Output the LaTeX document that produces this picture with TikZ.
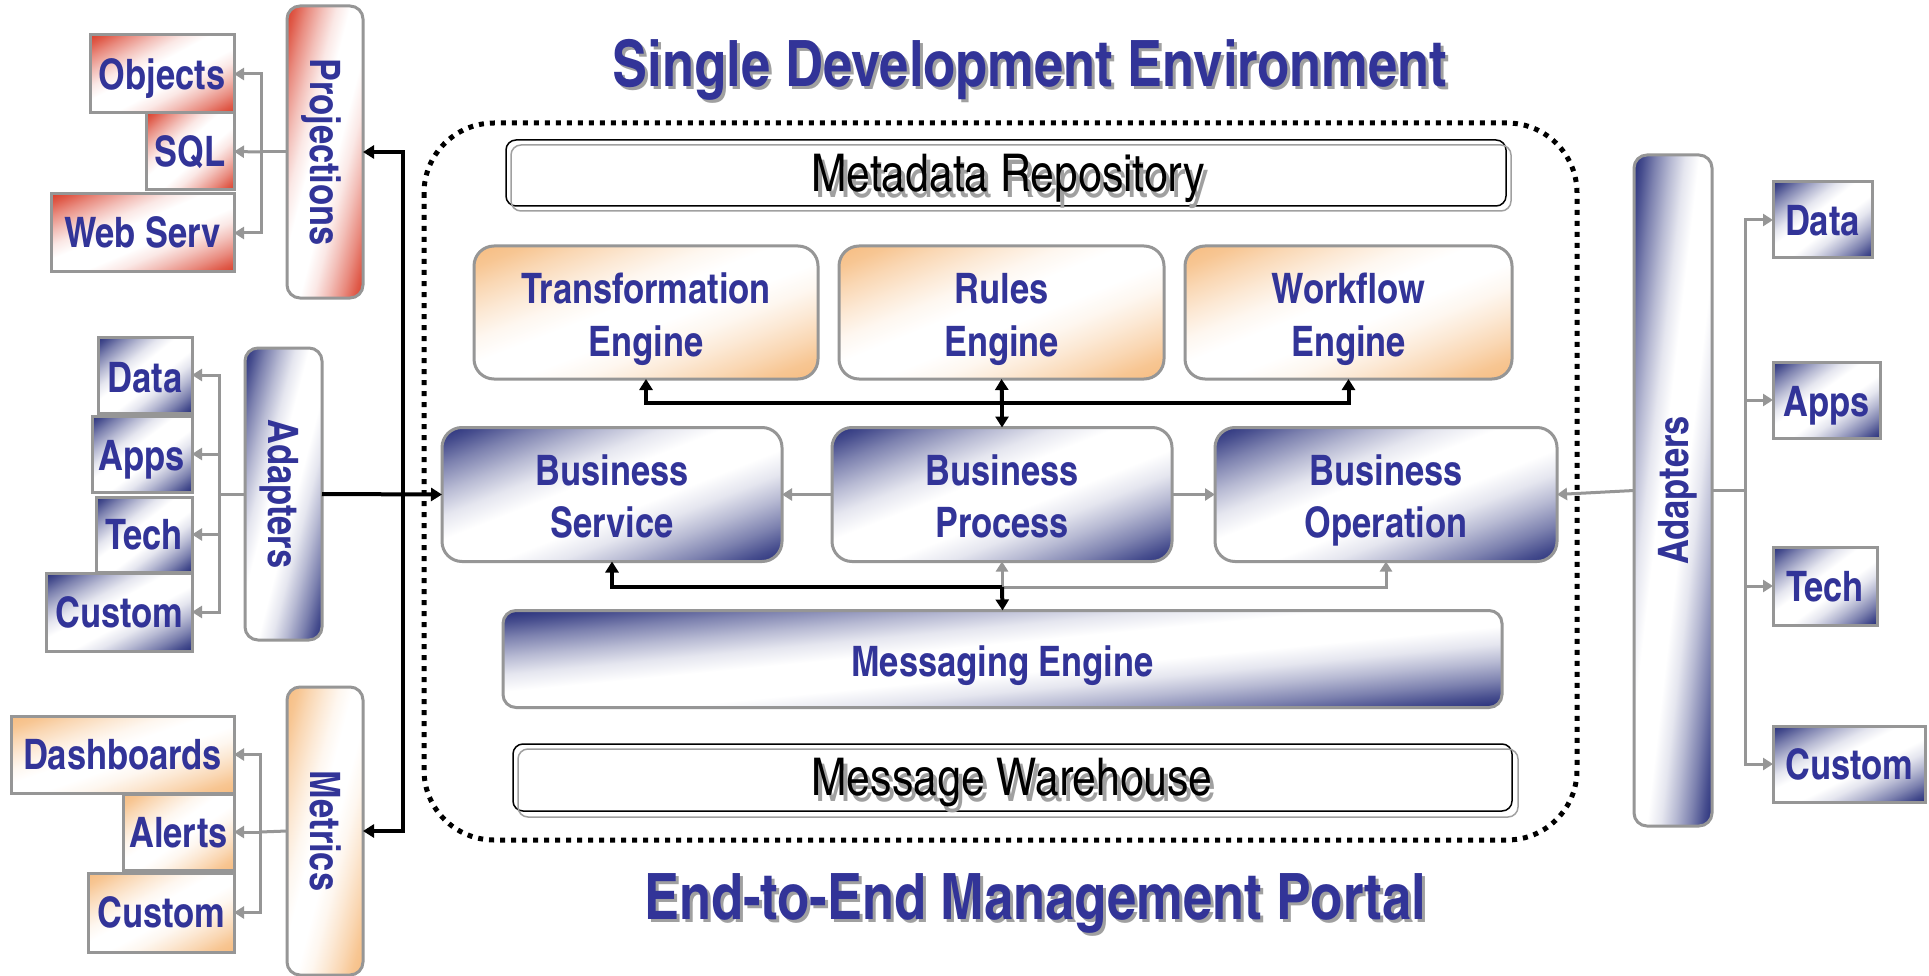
\documentclass[tikz,border=0pt]{standalone}
\usepackage{fontspec}
\usetikzlibrary{arrows.meta}
\newfontfamily\cnb{texgyreheroscn-bold}[Extension=.otf]
\newfontfamily\cnr{texgyreheroscn-regular}[Extension=.otf]
\definecolor{navyc}{RGB}{38,46,122}
\definecolor{redc}{RGB}{218,62,42}
\definecolor{orangec}{RGB}{246,188,128}
\definecolor{txtblue}{RGB}{50,52,152}
\definecolor{bgray}{RGB}{150,150,150}
\definecolor{shgray}{RGB}{160,160,160}
% graded intermediate colours
\newcommand{\mkgrades}[1]{%
  \colorlet{#1A}{#1c!85!white}%
  \colorlet{#1B}{#1c!60!white}%
  \colorlet{#1C}{#1c!33!white}%
  \colorlet{#1D}{#1c!12!white}}
\mkgrades{navy}\mkgrades{red}\mkgrades{orange}
\pgfdeclarehorizontalshading{navyshade}{100bp}{color(0bp)=(navyc); color(25bp)=(navyc); color(28bp)=(navyA); color(32bp)=(navyB); color(37bp)=(navyC); color(41.5bp)=(navyD); color(46bp)=(white); color(54bp)=(white); color(58.5bp)=(navyD); color(63bp)=(navyC); color(68bp)=(navyB); color(72bp)=(navyA); color(75bp)=(navyc); color(100bp)=(navyc)}
\pgfdeclarehorizontalshading{redshade}{100bp}{color(0bp)=(redc); color(25bp)=(redc); color(28bp)=(redA); color(32bp)=(redB); color(37bp)=(redC); color(41.5bp)=(redD); color(46bp)=(white); color(54bp)=(white); color(58.5bp)=(redD); color(63bp)=(redC); color(68bp)=(redB); color(72bp)=(redA); color(75bp)=(redc); color(100bp)=(redc)}
\pgfdeclarehorizontalshading{orangeshade}{100bp}{color(0bp)=(orangec); color(25bp)=(orangec); color(29bp)=(orangeA); color(33bp)=(orangeB); color(38bp)=(orangeC); color(42.5bp)=(orangeD); color(47bp)=(white); color(53bp)=(white); color(57.5bp)=(orangeD); color(62bp)=(orangeC); color(67bp)=(orangeB); color(71bp)=(orangeA); color(75bp)=(orangec); color(100bp)=(orangec)}
\tikzset{
  lbl/.style={font=\cnb\fontsize{42}{52}\selectfont, text=txtblue, inner sep=0pt, outer sep=0pt, text height=30pt, text depth=0pt},
  boxline/.style={draw=bgray, line width=3pt, inner sep=0pt, outer sep=0pt},
  ttl/.style={font=\cnb\fontsize{64}{70}\selectfont, text=txtblue, inner sep=0pt},
  mtxt/.style={font=\cnr\fontsize{52}{58}\selectfont, text=black, inner sep=0pt},
  barr/.style={draw=black, line width=4pt, -{Triangle[length=11pt,width=13pt]}},
  garr/.style={draw=bgray, line width=3pt, -{Triangle[length=10pt,width=12pt]}},
  glin/.style={draw=bgray, line width=3pt},
  framebox/.style={draw=black, line width=5pt, dash pattern=on 5pt off 6pt, rounded corners=70pt},
}
% #1 radius, #2 name, #3 cx, #4 cy, #5 W, #6 H, #7 shading
\newcommand{\gbox}[7]{%
  \begin{scope}
    \clip[rounded corners=#1pt] ({#3-#5/2},{#4-#6/2}) rectangle ({#3+#5/2},{#4+#6/2});
    \begin{scope}[transform canvas={shift={(#3,#4)}, xscale=#5/35.355, yscale=#6/35.355, rotate=-45}]
      \shade[shading=#7] (-25pt,-25pt) rectangle (25pt,25pt);
    \end{scope}
  \end{scope}
  \node[boxline, rounded corners=#1pt, minimum width=#5pt, minimum height=#6pt] (#2) at (#3,#4) {};
}
\begin{document}
\begin{tikzpicture}[x=1pt,y=-1pt]
\fill[white] (0,0) rectangle (1929,976);
\useasboundingbox (0,0) rectangle (1929,976);

% titles
\node[ttl, text=shgray] (t1s) at (1033,73) {Single Development Environment};
\node[ttl] (t1) at (1030,70) {Single Development Environment};
\node[ttl, text=shgray] (t2s) at (1038,906) {End-to-End Management Portal};
\node[ttl] (t2) at (1035,903) {End-to-End Management Portal};

% dotted frame
\draw[framebox] (424,123) rectangle (1577,840);

% metadata repository
\node[draw=black, line width=1.5pt, rounded corners=10pt, fill=white, minimum width=1000pt, minimum height=66pt, inner sep=0pt] (meta) at (1006,173) {};
\draw[draw=shgray, line width=1.5pt, rounded corners=10pt] (511,145) rectangle (1511,211);
\node[mtxt, text=shgray] (metas) at (1012,184) {Metadata Repository};
\node[mtxt] (metat) at (1008,178) {Metadata Repository};

% message warehouse
\node[draw=black, line width=1.5pt, rounded corners=10pt, fill=white, minimum width=999pt, minimum height=67pt, inner sep=0pt] (mw) at (1012.5,777.5) {};
\draw[draw=shgray, line width=1.5pt, rounded corners=10pt] (518,749) rectangle (1518,817);
\node[mtxt, text=shgray] (mws) at (1016,789) {Message Warehouse};
\node[mtxt] (mwt) at (1012,783) {Message Warehouse};

% engines
\gbox{20}{te}{646}{312.5}{344}{133}{orangeshade}
\gbox{20}{re}{1001.5}{312.5}{325}{133}{orangeshade}
\gbox{20}{we}{1348.5}{312.5}{327}{133}{orangeshade}
\node[lbl, yshift=24pt] (teA) at (te.center) {Transformation};
\node[lbl, yshift=-29pt] (teB) at (te.center) {Engine};
\node[lbl, yshift=24pt] (reA) at (re.center) {Rules};
\node[lbl, yshift=-29pt] (reB) at (re.center) {Engine};
\node[lbl, yshift=24pt] (weA) at (we.center) {Workflow};
\node[lbl, yshift=-29pt] (weB) at (we.center) {Engine};

% business
\gbox{20}{bs}{612}{494.5}{340}{134}{navyshade}
\gbox{20}{bp}{1002}{494.5}{340}{134}{navyshade}
\gbox{20}{bo}{1386}{494.5}{342}{134}{navyshade}
\node[lbl, yshift=24pt] (bsA) at (bs.center) {Business};
\node[lbl, yshift=-28pt] (bsB) at (bs.center) {Service};
\node[lbl, yshift=24pt] (bpA) at (bp.center) {Business};
\node[lbl, yshift=-28pt] (bpB) at (bp.center) {Process};
\node[lbl, yshift=24pt] (boA) at (bo.center) {Business};
\node[lbl, yshift=-28pt] (boB) at (bo.center) {Operation};

% messaging engine
\gbox{13}{me}{1002.5}{659}{999}{97}{navyshade}
\node[lbl, yshift=-2pt] (meL) at (me.center) {Messaging Engine};

% left: projections
\gbox{0}{obj}{162}{74}{144}{78}{redshade}
\gbox{0}{sql}{190}{151.5}{88}{77}{redshade}
\gbox{0}{ws}{142.5}{233}{183}{78}{redshade}
\gbox{13}{proj}{325}{152}{76}{292}{redshade}
\node[lbl, yshift=-1pt] (objL) at (obj.center) {Objects};
\node[lbl] (sqlL) at (sql.center) {SQL};
\node[lbl] (wsL) at (ws.center) {Web Serv};
\node[lbl, rotate=-90] (projL) at (proj.center) {Projections};

% left: adapters
\gbox{0}{dl}{145}{375}{94}{76}{navyshade}
\gbox{0}{al}{142}{454}{100}{76}{navyshade}
\gbox{0}{tl}{144}{534.5}{96}{75}{navyshade}
\gbox{0}{cl}{119}{612}{146}{78}{navyshade}
\gbox{13}{adl}{283.5}{494}{77}{292}{navyshade}
\node[lbl, yshift=-2pt] (dlL) at (dl.center) {Data};
\node[lbl, yshift=-1pt] (alL) at (al.center) {Apps};
\node[lbl] (tlL) at (tl.center) {Tech};
\node[lbl] (clL) at (cl.center) {Custom};
\node[lbl, rotate=-90] (adlL) at (adl.center) {Adapters};

% left: metrics
\gbox{0}{dash}{122.5}{754.5}{223}{77}{orangeshade}
\gbox{0}{alr}{178.5}{832}{111}{76}{orangeshade}
\gbox{0}{cm}{161}{912.5}{146}{79}{orangeshade}
\gbox{13}{met}{325}{831}{76}{288}{orangeshade}
\node[lbl] (dashL) at (dash.center) {Dashboards};
\node[lbl] (alrL) at (alr.center) {Alerts};
\node[lbl] (cmL) at (cm.center) {Custom};
\node[lbl, rotate=-90] (metL) at (met.center) {Metrics};

% right: adapters
\gbox{13}{adr}{1673}{490.5}{78}{671}{navyshade}
\gbox{0}{dr}{1822.5}{220}{99}{76}{navyshade}
\gbox{0}{ar}{1826.5}{400}{107}{76}{navyshade}
\gbox{0}{tr}{1825}{586}{104}{78}{navyshade}
\gbox{0}{cr}{1849}{764}{152}{76}{navyshade}
\node[lbl, rotate=90] (adrL) at (adr.center) {Adapters};
\node[lbl, yshift=-1pt] (drL) at (dr.center) {Data};
\node[lbl, yshift=-1pt] (arL) at (ar.center) {Apps};
\node[lbl] (trL) at (tr.center) {Tech};
\node[lbl] (crL) at (cr.center) {Custom};

% junction coordinates
\coordinate (pj) at (261,152);
\coordinate (aj) at (219,494);
\coordinate (mj) at (260,832);
\coordinate (bj) at (403,494);
\coordinate (rj) at (1745,490.5);
\coordinate (up) at (1002,403);
\coordinate (lo) at (1002,587);

% gray trees on the left
\draw[glin] (proj.west) -- (pj);
\draw[garr] (pj) |- (obj.east);
\draw[garr] (pj) -- (sql.east);
\draw[garr] (pj) |- (ws.east);
\draw[glin] (adl.west) -- (aj);
\draw[garr] (aj) |- (dl.east);
\draw[garr] (aj) |- (al.east);
\draw[garr] (aj) |- (tl.east);
\draw[garr] (aj) |- (cl.east);
\draw[glin] (met.west) -- (mj);
\draw[garr] (mj) |- (dash.east);
\draw[garr] (mj) -- (alr.east);
\draw[garr] (mj) |- (cm.east);

% gray tree on the right
\draw[glin] (adr.east) -- (rj);
\draw[garr] (rj) |- (dr.west);
\draw[garr] (rj) |- (ar.west);
\draw[garr] (rj) |- (tr.west);
\draw[garr] (rj) |- (cr.west);
\draw[garr] (adr.west) -- (bo.east);

% gray center connectors
\draw[garr] (bp.west) -- (bs.east);
\draw[garr] (bp.east) -- (bo.west);
\draw[garr] (lo) -- (bp.south);
\draw[garr] (lo) -| (bo.south);

% black connectors
\draw[barr] (bj) |- (proj.east);
\draw[barr] (bj) |- (met.east);
\draw[barr] (adl.east) -- (bs.west);
\draw[barr] (up) -| (te.south);
\draw[barr] (up) -| (we.south);
\draw[barr] (up) -- (re.south);
\draw[barr] (up) -- (bp.north);
\draw[barr] (lo) -| (bs.south);
\draw[barr] (lo) -- (me.north);
\end{tikzpicture}
\end{document}
